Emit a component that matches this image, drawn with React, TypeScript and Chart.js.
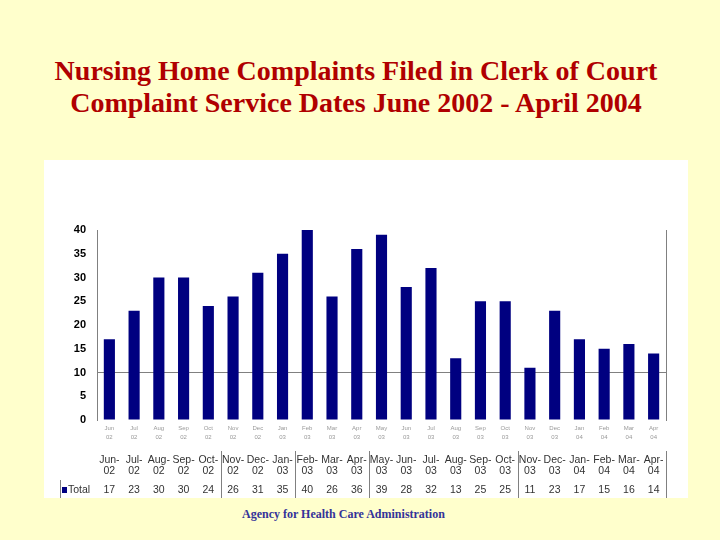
import React, { useEffect, useRef } from "react";
import { Chart, registerables } from "chart.js";

Chart.register(...registerables);

const categories = [
  "Jun-02", "Jul-02", "Aug-02", "Sep-02", "Oct-02", "Nov-02", "Dec-02", "Jan-03",
  "Feb-03", "Mar-03", "Apr-03", "May-03", "Jun-03", "Jul-03", "Aug-03", "Sep-03",
  "Oct-03", "Nov-03", "Dec-03", "Jan-04", "Feb-04", "Mar-04", "Apr-04",
];
const totals = [17, 23, 30, 30, 24, 26, 31, 35, 40, 26, 36, 39, 28, 32, 13, 25, 25, 11, 23, 17, 15, 16, 14];
const yTicks = [0, 5, 10, 15, 20, 25, 30, 35, 40];
const seriesName = "Total";
const tableSeparators = [5, 8, 11, 17, 23];

const NAVY = "#000080";
const SANS = "Arial, 'Liberation Sans', sans-serif";

const tablePlugin = {
  id: "dataTable",
  afterDraw(chart: any) {
    const ctx = chart.ctx;
    const area = chart.chartArea;
    const xs = chart.scales.x;
    const n = categories.length;
    const w = (area.right - area.left) / n;
    ctx.save();
    ctx.strokeStyle = "#808080";
    ctx.lineWidth = 1;
    ctx.beginPath();
    ctx.moveTo(Math.round(area.right) + 0.5, area.top);
    ctx.lineTo(Math.round(area.right) + 0.5, area.bottom + 1);
    ctx.stroke();
    tableSeparators.forEach((k) => {
      const x = Math.round(area.left + w * k) + 0.5;
      ctx.beginPath();
      ctx.moveTo(x, 291);
      ctx.lineTo(x, 338);
      ctx.stroke();
    });
    ctx.beginPath();
    ctx.moveTo(16.5, 320);
    ctx.lineTo(16.5, 338);
    ctx.stroke();
    ctx.fillStyle = "#333";
    ctx.font = `10.5px ${SANS}`;
    ctx.textAlign = "center";
    ctx.textBaseline = "middle";
    categories.forEach((c, i) => {
      const x = xs.getPixelForValue(i);
      const [m, y] = c.split("-");
      ctx.fillText(m + "-", x, 300);
      ctx.fillText(y, x, 311);
      ctx.fillText(String(totals[i]), x, 330);
    });
    ctx.fillStyle = NAVY;
    ctx.fillRect(18, 327, 5, 6);
    ctx.fillStyle = "#333";
    ctx.textAlign = "left";
    ctx.fillText(seriesName, 24, 330);
    ctx.restore();
  },
};

export default function App() {
  const ref = useRef<HTMLCanvasElement | null>(null);
  useEffect(() => {
    if (!ref.current) return;
    const chart = new Chart(ref.current, {
      type: "bar",
      data: {
        labels: categories.map((c) => c.split("-")),
        datasets: [
          {
            label: seriesName,
            data: totals,
            backgroundColor: NAVY,
            borderWidth: 0,
            barPercentage: 0.45,
            categoryPercentage: 1,
          },
        ],
      },
      options: {
        animation: false,
        responsive: true,
        maintainAspectRatio: false,
        layout: { padding: { top: 70, right: 22, left: 0, bottom: 0 } },
        plugins: { legend: { display: false }, tooltip: { enabled: false }, title: { display: false } },
        scales: {
          x: {
            grid: { display: false, drawTicks: false },
            border: { display: false },
            ticks: {
              color: "#999",
              font: { family: SANS, size: 6, lineHeight: 1.5 },
              padding: 4,
              maxRotation: 0,
              autoSkip: false,
            },
            afterFit(scale: any) {
              scale.height = 78;
            },
          },
          y: {
            min: 0,
            max: 40,
            afterBuildTicks(scale: any) {
              scale.ticks = yTicks.map((v) => ({ value: v }));
            },
            grid: {
              drawTicks: false,
              color: (c: any) => (c.tick && c.tick.value === 10 ? "#808080" : "rgba(0,0,0,0)"),
            },
            border: { display: true, color: "#808080" },
            ticks: {
              color: "#000",
              font: { family: SANS, size: 11, weight: "bold" },
              padding: 11,
            },
            afterFit(scale: any) {
              scale.width = 53;
            },
          },
        },
      },
      plugins: [tablePlugin],
    } as any);
    return () => chart.destroy();
  }, []);

  return (
    <div style={{ position: "absolute", left: 0, top: 0, width: 720, height: 540, background: "#FFFFCC", overflow: "hidden" }}>
      <div
        style={{
          position: "absolute",
          left: 0,
          top: 55,
          width: 712,
          textAlign: "center",
          fontFamily: "'Times New Roman', 'Liberation Serif', serif",
          fontWeight: "bold",
          fontSize: 28,
          lineHeight: "32px",
          color: "#B00000",
          whiteSpace: "nowrap",
        }}
      >
        Nursing Home Complaints Filed in Clerk of Court
        <br />
        Complaint Service Dates June 2002 - April 2004
      </div>
      <div style={{ position: "absolute", left: 44, top: 160, width: 644, height: 338, background: "#FFFFFF" }}>
        <canvas ref={ref} />
      </div>
      <div
        style={{
          position: "absolute",
          left: 242,
          top: 506,
          fontFamily: "'Times New Roman', 'Liberation Serif', serif",
          fontWeight: "bold",
          fontSize: 12,
          lineHeight: "16px",
          color: "#333399",
          whiteSpace: "nowrap",
        }}
      >
        Agency for Health Care Administration
      </div>
    </div>
  );
}
